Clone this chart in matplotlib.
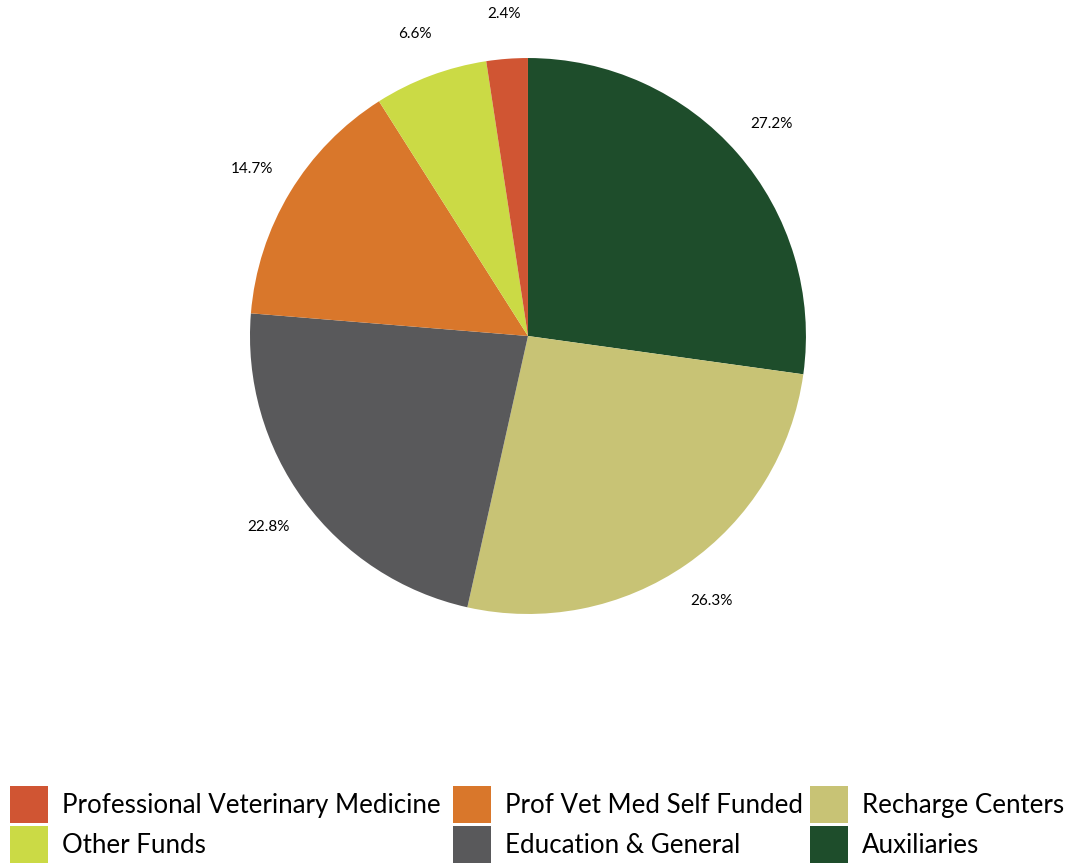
import matplotlib.pyplot as plt
from matplotlib.patches import Rectangle

plt.rcParams['font.family'] = ['Lato', 'DejaVu Sans']

# Data (clockwise from 12 o'clock)
categories = ['Auxiliaries', 'Recharge Centers', 'Education & General',
              'Prof Vet Med Self Funded', 'Other Funds', 'Professional Veterinary Medicine']
shares = [27.2, 26.3, 22.8, 14.7, 6.6, 2.4]
colors = ['#1E4D2B', '#C8C375', '#59595B', '#D9772B', '#CBDA45', '#D05533']

# legend layout as shown: rows of three
legend_rows = [['Professional Veterinary Medicine', 'Prof Vet Med Self Funded', 'Recharge Centers'],
               ['Other Funds', 'Education & General', 'Auxiliaries']]

W, H = 1068, 864
fig = plt.figure(figsize=(W / 100, H / 100), dpi=100)
ax = fig.add_axes([0.1690, 0.2089, 0.6507, 0.8044])

wedges, texts, autotexts = ax.pie(
    shares, colors=colors, startangle=90, counterclock=False,
    autopct='%1.1f%%', pctdistance=1.16, radius=1.0,
    wedgeprops=dict(linewidth=0), textprops=dict(fontsize=11, color='black'))
ax.set_xlim(-1.25, 1.25)
ax.set_ylim(-1.25, 1.25)
ax.set_aspect('equal')
ax.axis('off')

# legend drawn by hand (pixel layout from top-left)
color_map = dict(zip(categories, colors))
col_x = [10, 453, 810]
row_top = [786, 826]
box_w, box_h = 38, 37
for r, row in enumerate(legend_rows):
    for c, name in enumerate(row):
        x0 = col_x[c] / W
        y0 = 1 - (row_top[r] + box_h) / H
        fig.patches.append(Rectangle((x0, y0), box_w / W, box_h / H,
                                     transform=fig.transFigure,
                                     facecolor=color_map[name], edgecolor='none'))
        fig.text((col_x[c] + 52) / W, 1 - (row_top[r] + box_h / 2 + 1) / H, name,
                 fontsize=18.6, va='center', ha='left')

fig.savefig('out.png', dpi=100)
